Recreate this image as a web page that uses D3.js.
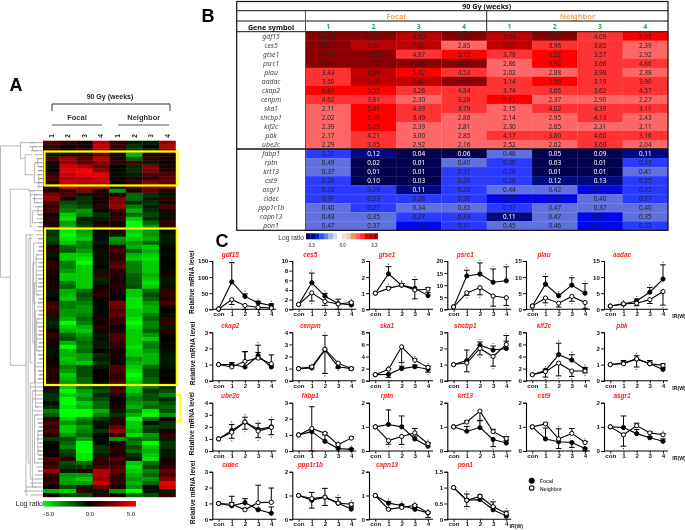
<!DOCTYPE html>
<html><head><meta charset="utf-8">
<script src="https://cdn.jsdelivr.net/npm/d3@7"></script>
<style>html,body{margin:0;padding:0;background:#fff}svg{display:block;font-family:"Liberation Sans",Arial,sans-serif;filter:blur(.3px)}</style>
</head><body><div id="chart"></div>
<script>
// ---------- Panel A data ----------
const heatColumns = ["F1","F2","F3","F4","N1","N2","N3","N4"];
const heatLabels = ["1","2","3","4","1","2","3","4"];
const heatRows = [
[1.5,1,0.5,3.5,1,-0.5,-0.5,3],[1,0.2,0.5,4,1,-1,0,3.5],[0.8,-0.2,0.8,3.5,0.8,-1.5,-1,2.5],
[-0.5,0.8,0.8,2,0.3,-3.5,0.5,0.5],[1.5,3,1.5,3.5,0.5,-2,1,0.5],[0.3,3,2,2.5,1,1.5,-0.5,0.3],
[-0.2,4,3.5,2,0,-0.8,2.5,0.5],[0.2,4.5,5,3,-0.2,-1,2.5,0.8],[1,4,4.5,4.5,-0.3,-0.5,1.5,1.5],
[1.5,3.5,3.5,4,0.3,0.8,1,2],[0.5,4,3.5,3.5,-0.1,1,2.5,1.8],[0.8,4,3,3.5,0.1,1.5,2,2.5],
[0.5,0.8,2.5,0.5,-3,0.5,2,0.5],[2.5,1.5,-0.5,0.8,0.5,-2,-1,-0.5],[3,0.5,-1,0.3,2.5,-2,-0.5,1],
[1.5,-1.5,-1,0.5,2.5,-1,-1,0.5],[1,-2,-1.5,0.8,3,-2.5,-0.5,1.5],[1.5,-2.5,-3,-0.3,1,-3.5,-1,0.5],
[0.2,-4,-2.5,-1,0.8,-2,-1.5,-0.3],[0.8,-4.5,-0.5,-0.5,1,-4,-1,0.5],[0.5,-3,-1,0.5,0.5,-5,-2,1],
[0.5,-3.5,-1.5,1,0.5,-5,-3,1],[-1,-4.5,-3,0.2,0.5,-4,-3,-0.2],[-1,-5,-3.5,-0.2,-0.5,-4.5,-3,-0.5],
[-1.5,-4.5,-4,-0.2,-3,-4,-3.5,-0.5],[-1,-4,-2.5,-0.5,-2.5,-3,-2,-0.5],[0.5,-2,-2.5,0.3,1,-3.5,-4,-0.2],
[0.5,-1.8,-3,-0.3,1.5,-2,-3.5,0.3],[-0.5,-4,-4,-0.3,0.8,-3.5,-4,-0.3],[0.3,-4,-4.5,-0.3,0.8,-4,-4.5,0],
[0.8,-2.5,-5,-0.3,1.5,-2.5,-4,0],[0.8,-2.5,-4,0,1.8,-2.5,-4,-0.2],[0.5,-3,-4,-0.5,0.8,-2.5,-4,-0.2],
[0.3,-4,-4,1,0.8,-2,-3.5,0.5],[0.2,-4,-4,-0.8,0.5,-1.8,-4,-0.5],[0.5,-2.5,-4,-0.5,0.5,-1.8,-4.5,-0.5],
[0.5,-2,-4,0.3,0.8,-1.5,-4,-0.3],[-0.3,-3.5,-2,0.5,0.5,-4,-2,1],[-0.3,-3.5,-1.5,1,0.3,-4,-1.5,1],
[0,-4,-2,0.3,0.3,-4.5,-2,0.8],[1,-2.5,-2.5,-0.2,2.5,-4.5,-3,1.5],[1.5,-2.5,-3,-0.2,2,-4.5,-3.5,0.3],
[1,-3,-3,-0.2,1.5,-4,-3.5,0],[0.8,-3,-2.5,-0.2,2,-4,-2.5,-0.3],[-0.5,-3.5,-2,0.5,1.2,-4.5,-2,0.8],
[-0.8,-5,-2.5,0.3,1,-5,-2.5,1],[-0.5,-4,-3.5,0.8,0.3,-4.5,-2.5,-0.5],[0.3,-3.5,-4,0.5,0.5,-4,-2,0.8],
[1,-2,-3,-0.5,1.5,-4,-3,0.3],[0.5,-1.5,-2.5,-0.3,1.5,-4,-4,0],[0.5,-3.5,-2,-0.5,1,-4,-2.5,-0.2],
[-0.3,-5,-2.5,-0.5,1,-4.5,-2.5,0.3],[-0.3,-3.5,-2,0,0.3,-4,-3,-0.3],[-0.3,-3.5,-3,-0.8,0.5,-4,-3.5,-0.5],
[0.2,-4,-3,-0.5,0.5,-3,-3.5,-0.5],[0.3,-3.5,-4,-1,0.3,-3.5,-3.5,-0.5],[0.5,-2.5,-1.5,-0.5,1.5,-4,-2,-0.3],
[0.8,-3,-1.5,0,1.5,-4.5,-1.5,0],[0.8,-4,-1.5,0.2,1,-5,-1.5,-0.2],[0.5,-3.5,-2,0,1,-4.5,-2,0],
[1,-3,-2,-0.2,1.5,-4,-2,0.2],[0.5,-4,-2,-1,1,-4,-2,-1],[-0.5,-5,-3,-1.5,1.5,-4,-1,-1.5],
[-1,-4,-3.5,-0.8,0.8,-3,-1.5,-2.5],[-1,-5,-2.5,-1.5,0,-2.5,-1.5,-0.8],[-0.3,-5,-4,-2,0.3,-3,-2.5,-1.5],
[-0.8,-4.5,-3.5,-2,0.5,-3.5,-2,-2],[-2.5,-5,-5,-3.5,-0.5,-2.5,-4.5,-1.5],[-1.8,-5,-5,-2.5,-1,-3.5,-5,-3],
[0.8,-4,-2.5,-1,1,-5,-2,0.3],[1.5,-3,-2,-0.5,0.5,-4,-0.3,-1],[1,-4,-3,-0.3,2,-4,-1.5,-1],
[1.5,-4,-2.5,-1,3,-3.5,-1,0.5],[0.8,-3,-2,0,1,-4.5,-3,1],[-1.2,-1.5,-3,-0.3,-3,-2,-2.5,-0.5],
[0,-2,-5,-0.2,0.5,-2.5,-5,-1],[0.1,-2.5,-5,-1,0.8,-1.5,-4,-1],[0.2,-1.5,-5,-1,0.8,-2,-3.5,-0.5],
[0.1,-1,-4.5,-0.5,0.5,-1,-4,-0.5],[1.5,1,-4.5,1,1.5,-0.5,-4.5,0.5],[1,-1.5,-2,0.8,1,-4,-2,0.5],
[1.5,-1,-1,1.5,1.5,-4.5,-1.5,1],[3,-0.5,0.5,3.5,2,-4,-2.5,2],[1,-3,-3,3.5,1,-3.5,-2,1.5],
[0.8,-3.5,-4,3,1,-3,-3,2.5],[1,-3,-3,4,1,-3.5,-2,4.5],[0,-1.5,-0.5,2,0.5,-3,0.5,4],
[-3.5,-4,1,-0.5,-3,-5,-0.5,-0.5],[0.3,-1.5,-1.5,0.8,0.3,-2,-1.5,1]
];
const heatLegendTicks = [-5,0,5];
// tree joins: [height, rowA, childHeightA, rowB, childHeightB]
const treeJoins = [
[1,0.8,.53,33.6,.77],[.77,11.6,.3,55.6,.4],[.4,23,.3,88,.35],
[.53,0,.2,4,.42],[.42,3,.25,8,.2],[.25,1,.15,2,.1],[.2,5,.12,10,.1],[.12,4,.05,6,.05],[.1,8,.05,11,.05],
[.3,12,.2,21,.25],[.25,17,.12,20,.1],[.2,13,.1,15,.1],[.12,16,.06,18,.05],
[.35,24,.26,80,.3],[.3,23,.22,55,.24],[.24,30,.18,50,.2],[.22,25,.15,40,.16],[.2,35,.14,60,.15],
[.18,42,.12,66,.1],[.3,60,.2,84,.25],[.25,62,.18,86,.15],[.2,68,.1,80,.12],[.16,28,.1,38,.08],
[.15,44,.08,52,.08],[.12,72,.06,78,.05]
];
const leafHeights = [.3,.32,.28,.2,.15,.18,.1,.12,.15,.1,.12,.14,.35,.3,.25,.2,.18,.15,.12,.14,.1,.12,
.2,.16,.12,.14,.1,.12,.15,.18,.1,.12,.14,.16,.12,.1,.12,.14,.16,.1,.12,.14,.1,.12,.14,.16,.12,.1,.12,.14,.1,.12,.14,.12,.1,.14,
.16,.12,.1,.12,.14,.3,.22,.2,.24,.16,.18,.26,.2,.14,.12,.1,.12,.14,.16,.1,.14,.12,.1,.12,.14,.16,.12,.2,.24,.3,.4,.45,.3];

// ---------- Panel B data ----------
const tableGenes = ["gdf15","ces5","gtse1","psrc1","plau","aadac","ckap2","cenpm","ska1","shcbp1","kif2c","pbk","ube2c","fabp1","rptn","krt13","cst9","asgr1","cidec","ppp1r1b","capn13","pon1"];
const tableWeeks = ["1","2","3","4","1","2","3","4"];
const foldChanges = [
[42.88,40.01,8.99,10.68,7.64,14.01,4.09,5.07],[36.60,8.56,7.92,2.85,8.11,3.96,3.85,2.39],
[14.73,16.23,4.87,5.15,3.78,6.22,3.57,2.92],[10.89,17.52,12.60,13.61,2.86,5.92,3.66,4.86],
[3.43,9.89,5.42,4.53,2.02,2.88,3.98,2.38],[3.60,9.70,7.42,17.19,3.14,5.55,3.19,3.90],
[5.67,5.55,3.26,4.84,3.74,3.66,3.62,4.57],[4.62,3.61,2.30,3.28,5.13,2.37,2.90,2.27],
[2.11,5.81,4.39,3.79,2.15,4.02,4.39,3.11],[2.02,5.30,3.49,2.86,2.14,2.95,4.13,2.43],
[2.39,5.25,2.39,2.81,2.30,2.65,2.31,2.11],[2.17,4.21,3.00,2.85,4.17,3.80,4.60,3.16],
[2.29,3.05,2.92,2.16,2.52,2.62,3.60,2.04],[0.20,0.12,0.04,0.06,0.48,0.05,0.09,0.11],
[0.49,0.02,0.01,0.40,0.30,0.03,0.01,0.33],[0.37,0.01,0.01,0.31,0.26,0.01,0.01,0.41],
[0.20,0.10,0.03,0.20,0.26,0.12,0.13,0.25],[0.33,0.29,0.11,0.26,0.44,0.42,0.19,0.32],
[0.31,0.23,0.28,0.30,0.17,0.19,0.40,0.27],[0.40,0.27,0.34,0.35,0.32,0.47,0.37,0.40],
[0.43,0.35,0.27,0.33,0.11,0.47,0.16,0.35],[0.47,0.37,0.18,0.31,0.45,0.46,0.18,0.32]
];
const foldThresholds = [0.105,0.135,0.195,0.335,1,3.02,5,7,10];
const foldColors = ["#00004f","#000a80","#0008e8","#2a3aff","#6070dc","#ff6666","#ff3333","#ff0000","#c00000","#8b0000"];
const tableLegendColors = ["#00004f","#000a80","#0a20d8","#3050ff","#6080e0","#a8b0e0","#d8d8e8","#ffffff","#f4dcdc","#f0c8c8","#e89858","#ff6666","#ff3333","#e00000","#c00000","#8b0000"];
const tableLegendTicks = ["-3.3","0.0","3.3"];

// ---------- Panel C data ----------
const timeCategories = ["con","1","2","3","4"];
const panelGenes = ["gdf15","ces5","gtse1","psrc1","plau","aadac","ckap2","cenpm","ska1","shcbp1","kif2c","pbk","ube2c","fabp1","rptn","krt13","cst9","asgr1","cidec","ppp1r1b","capn13","pon1"];
const panelYMax = [150,10,3,20,15,15,3,4,8,3,8,3,4,3,2,2,2,2,3,2,2,1.5];
const panelYStep = [50,2,1,5,5,5,1,1,2,1,2,1,1,1,1,1,1,1,1,1,1,0.5];
const focalMeans = [
[1,85,40,20,12],[1,5.5,2.7,1.2,0.9],[1,2.2,1.5,1.3,0.85],[1,13.8,14.6,11.2,11.8],[1,7.8,4.2,7.5,5],[1,1.6,2.6,5.3,9.4],
[1,1,0.85,1.55,0.85],[1,1.05,2.55,1.15,1],[1,1.05,2,2.3,1.9],[1,1.25,2.2,1.9,2],[1,1.7,4.3,3.4,1.9],[1,1.1,1.35,1.05,0.7],
[1,1.7,2.4,1.8,2],[1,1.2,0.6,0.15,0.1],[1,1.1,1,0.5,0.2],[1,0.82,0.97,0.48,0.33],[1,0.5,0.38,0.35,0.1],[1,0.97,0.72,0.55,0.4],
[1,0.85,1.05,0.6,0.38],[1,0.8,0.93,0.67,0.43],[1,0.68,0.58,0.42,0.27],[1,0.6,0.62,0.3,0.1]];
const focalErrors = [
[0,60,8,5,5],[0,2,0.6,0.9,0.2],[0,0.45,0.1,0.55,0.2],[0,2.4,4.6,5.5,5.8],[0,2.4,0.5,2.3,3],[0,0.3,0.6,1.5,4.4],
[0,0.12,0.95,0.65,0.12],[0,0.2,1.2,0.3,0.1],[0,-0.5,0.4,0.3,-0.5],[0,0.65,0.2,0.25,0.45],[0,0.2,1.9,0.9,0.3],[0,0.15,0.2,0.2,0.1],
[0,0.5,0.4,0.5,0.6],[0,1.55,0.4,0.1,0.05],[0,0.6,0.45,0.12,0.1],[0,0.2,0.3,-0.3,0.1],[0,0.45,-0.28,-0.2,-0.2],[0,0.48,0.17,0.05,0.1],
[0,0.6,0.25,0.05,0.4],[0,0.33,0.37,0.25,0.1],[0,0.07,0.05,0.08,-0.2],[0,0.2,0.1,0.1,0.05]];
const neighborMeans = [
[1,30,12,6,4],[1,3.4,1.6,1.1,1.4],[1,1.3,1.5,1.2,1.25],[1,6.8,9,5.5,4.8],[1,3.5,1.9,4,2.1],[1,1.7,1.9,3,5.5],
[1,0.85,1.2,1.4,1.05],[1,1.15,2.6,1.45,1],[1,1.9,5.6,3.4,2.2],[1,1.1,2,1.5,2.25],[1,1.5,2.9,1.6,1.6],[1,1.05,1.35,1.05,0.95],
[1,1.55,2.4,1.65,1.95],[1,1.4,1.1,0.4,0.8],[1,0.43,0.6,0.75,0.3],[1,1.2,1.65,0.8,0.52],[1,1.12,0.5,0.73,0.35],[1,0.67,1.05,0.75,0.67],
[1,0.95,0.6,1.05,1.07],[1,0.87,0.93,0.68,0.63],[1,0.42,0.5,0.58,0.28],[1,0.6,0.72,0.4,0.18]];
const neighborErrors = [
[0,-15,-12,-6,-4],[0,-1.7,-0.8,-1.1,0.2],[0,0.1,0.1,-0.55,0.1],[0,-1,-3,-4.2,-3.2],[0,-1.5,-1.2,-1.5,-1.8],[0,-0.3,-0.8,-1.2,-4.2],
[0,0.1,0.6,0.35,0.55],[0,-0.1,-2,-0.4,-0.1],[0,0.1,-2.6,0.2,0.2],[0,-0.55,-0.4,-0.6,0.55],[0,-0.9,-2.1,-0.9,-0.3],[0,0.1,-0.5,0.1,0.1],
[0,-0.5,-0.6,-0.55,-0.6],[0,-1.6,0.05,0.05,0.08],[0,-0.15,-0.33,0.18,0.05],[0,0.05,-0.4,0.1,0.08],[0,0.05,0.42,0.2,0.05],[0,-0.47,0.1,0.05,0.05],
[0,0.1,0.1,1.1,0.9],[0,-0.4,-0.35,0.05,0.05],[0,0.03,0.05,0.04,0.03],[0,-0.2,0.05,0.15,0.08]];

// ---------- Drawing ----------
const W=685,H=530;
const svg=d3.select("#chart").append("svg").attr("width",W).attr("height",H).attr("viewBox",`0 0 ${W} ${H}`);
const txt=(g,x,y,s,o={})=>{const t=g.append("text").attr("x",x).attr("y",y).attr("text-anchor",o.a||"middle").attr("dominant-baseline","central")
  .attr("font-size",o.s||7).attr("font-weight",o.w||"normal").attr("font-style",o.i?"italic":"normal").attr("fill",o.c||"#111").text(s);
  if(o.f)t.attr("font-family",o.f); if(o.r!==undefined)t.attr("transform",`rotate(${o.r} ${x} ${y})`); return t;};
const ln=(g,x1,y1,x2,y2,c="#000",w=1)=>g.append("line").attr("x1",x1).attr("y1",y1).attr("x2",x2).attr("y2",y2).attr("stroke",c).attr("stroke-width",w);

txt(svg,16,85,"A",{s:18,w:"bold",c:"#000"});
txt(svg,208,16,"B",{s:18,w:"bold",c:"#000"});
txt(svg,222,241,"C",{s:18,w:"bold",c:"#000"});

// Panel A
const A=svg.append("g");
const hx=d3.scaleBand().domain(heatColumns).range([43,175.5]);
const hy=d3.scaleBand().domain(d3.range(heatRows.length)).range([140.7,497]);
const heatColor=d3.scaleLinear().domain([-5,0,5]).range(["#00ff00","#000000","#ff0000"]).clamp(true);
heatRows.forEach((row,r)=>{A.selectAll(null).data(row).enter().append("rect")
  .attr("x",(d,i)=>hx(heatColumns[i])).attr("y",hy(r)).attr("width",hx.bandwidth()+.3).attr("height",hy.bandwidth()+.2).attr("fill",d=>heatColor(d));});
// dendrogram
const tx=d3.scaleLinear().domain([1,0]).range([0.5,43]);
const ty=r=>hy(Math.floor(r))+(r-Math.floor(r)+.5)*hy.step();
leafHeights.forEach((h,r)=>ln(A,tx(h),ty(r),43,ty(r),h<.13?"#222":"#777",.6));
treeJoins.forEach(j=>A.append("path").attr("fill","none").attr("stroke","#999").attr("stroke-width",.7)
  .attr("d",`M${tx(j[2])},${ty(j[1])}H${tx(j[0])}V${ty(j[3])}H${tx(j[4])}`));
// yellow boxes
A.append("rect").attr("x",44.5).attr("y",151.5).attr("width",133).attr("height",34).attr("fill","none").attr("stroke","#ffff00").attr("stroke-width",2.2);
A.append("rect").attr("x",45).attr("y",228.5).attr("width",132).attr("height",156.5).attr("fill","none").attr("stroke","#ffff00").attr("stroke-width",2.2);
A.append("path").attr("d","M176,395H180.5V421.5H176").attr("fill","none").attr("stroke","#ffff00").attr("stroke-width",2);
// header
txt(A,110,96,"90 Gy (weeks)",{s:7,w:"bold",c:"#222"});
A.append("path").attr("d","M52,111V104H170V111").attr("fill","none").attr("stroke","#333").attr("stroke-width",1);
txt(A,77,117,"Focal",{s:7.5,w:"bold",c:"#333"});
txt(A,143.7,117,"Neighbor",{s:7.5,w:"bold",c:"#333"});
ln(A,52,125,102,125,"#555",1);ln(A,118,125,169,125,"#555",1);
heatLabels.forEach((l,i)=>txt(A,hx(heatColumns[i])+hx.bandwidth()/2,136,l,{s:6.5,w:"bold",r:-90,c:"#222"}));
// colour bar
const grad=svg.append("defs").append("linearGradient").attr("id","hg");
[[0,"#00ff00"],[.5,"#000"],[1,"#ff0000"]].forEach(s=>grad.append("stop").attr("offset",s[0]).attr("stop-color",s[1]));
A.append("rect").attr("x",43).attr("y",501).attr("width",93).attr("height",5.6).attr("fill","url(#hg)");
txt(A,43,503,"Log ratio",{s:7,a:"end",c:"#222"});
const hl=d3.scaleLinear().domain([-5,5]).range([49,131]);
heatLegendTicks.forEach(t=>txt(A,hl(t),513.5,t.toFixed(1),{s:6,c:"#555",w:"bold"}));

// Panel B
const B=svg.append("g");
const bL=236.7,bM=305.5,bR=668,bT=1.5,bD=31.7,bB=230.3;
const tx2=d3.scaleBand().domain(d3.range(8)).range([bM,bR]);
const ty2=d3.scaleBand().domain(tableGenes).range([bD,bB]);
const fc=d3.scaleThreshold().domain(foldThresholds).range(foldColors);
B.append("rect").attr("x",bL).attr("y",bT).attr("width",bR-bL).attr("height",bB-bT).attr("fill","#fff");
foldChanges.forEach((row,r)=>{const g=tableGenes[r],y=ty2(g);
  txt(B,(bL+bM)/2,y+ty2.bandwidth()/2,g,{s:6.8,i:1,c:"#444",f:"'Noto Sans'"});
  row.forEach((v,c)=>{B.append("rect").attr("x",tx2(c)).attr("y",y).attr("width",tx2.bandwidth()+.2).attr("height",ty2.bandwidth()+.2).attr("fill",fc(v));
    txt(B,tx2(c)+tx2.bandwidth()/2,y+ty2.bandwidth()/2,v.toFixed(2),{s:6.4,f:"'Noto Sans'",c:v<0.105||(v>=0.105&&v<0.135)?"#fff":"#222"});});});
txt(B,486.7,6.2,"90 Gy (weeks)",{s:7.2,w:"bold",f:"'Noto Sans'",c:"#111"});
txt(B,396,16.3,"Focal",{s:7.6,c:"#f4a460",f:"'Noto Sans'",w:"bold"});
txt(B,577.7,16.3,"Neighbor",{s:7.6,c:"#f4a460",f:"'Noto Sans'",w:"bold"});
txt(B,271,27,"Gene symbol",{s:7.2,w:"bold",f:"'Noto Sans'",c:"#111"});
tableWeeks.forEach((w,i)=>txt(B,tx2(i)+tx2.bandwidth()/2,26.7,w,{s:7,w:"bold",c:"#20b050",f:"'Noto Sans'"}));
ln(B,bL,10.7,bR,10.7,"#111",1);ln(B,bL,21,bR,21,"#111",1);ln(B,bL,bD,bR,bD,"#111",1);
ln(B,486.7,10.7,486.7,bD,"#222",1);ln(B,bM,10.7,bM,bB,"#555",1);
const breakY=ty2(tableGenes[13]);ln(B,bL,breakY,bR,breakY,"#111",1.6);
B.append("rect").attr("x",bL).attr("y",bT).attr("width",bR-bL).attr("height",bB-bT).attr("fill","none").attr("stroke","#111").attr("stroke-width",1.2);
const bl=d3.scaleBand().domain(d3.range(tableLegendColors.length)).range([306,377.7]);
tableLegendColors.forEach((c,i)=>B.append("rect").attr("x",bl(i)).attr("y",233.3).attr("width",bl.bandwidth()+.2).attr("height",6).attr("fill",c));
txt(B,304,237,"Log ratio",{s:6.6,a:"end",c:"#333"});
const blt=d3.scalePoint().domain(tableLegendTicks).range([311,374.3]);
tableLegendTicks.forEach(t=>txt(B,blt(t),245.3,t,{s:4.5,w:"bold",c:"#555"}));

// Panel C
const colX=[212.3,292.3,369,447.3,526,604];
const rowY=[[261,309.3],[332.3,380.7],[402.7,451],[471.7,519.3]];
const dot=d3.symbol().type(d3.symbolCircle);
panelGenes.forEach((gene,i)=>{
  const c=i%6,rw=Math.floor(i/6),ax=colX[c],[top,bot]=rowY[rw];
  const g=svg.append("g");
  const x=d3.scalePoint().domain(timeCategories).range([ax+6.3,ax+59]);
  const y=d3.scaleLinear().domain([0,panelYMax[i]]).range([bot,top]);
  const ya=d3.axisLeft(y).tickValues(d3.range(0,panelYMax[i]+1e-9,panelYStep[i])).tickSize(3).tickFormat(d=>String(d));
  const yg=g.append("g").attr("transform",`translate(${ax},0)`).call(ya);
  const xa=d3.axisBottom(x).tickSize(2.5);
  const xg=g.append("g").attr("transform",`translate(0,${bot})`).call(xa);
  xg.select(".domain").remove();
  ln(g,ax,bot,ax+64,bot,"#000",1.1);
  [yg,xg].forEach(s=>{s.selectAll("text").attr("font-size",6.2).attr("font-weight","bold").attr("fill","#111").attr("font-family","'Liberation Sans'");
    s.selectAll(".tick line").attr("stroke","#000").attr("stroke-width",.9);});
  yg.select(".domain").attr("stroke","#000").attr("stroke-width",1.1);
  xg.selectAll("text").attr("dy","0.55em").attr("y",3.5);
  yg.selectAll("text").attr("x",-4);
  txt(g,ax+18,top-7,gene,{s:6.4,w:"bold",i:1,c:"#ff2020"});
  if(c===0) txt(g,192,(top+bot)/2-3,"Relative mRNA level",{s:6.6,w:"bold",r:-90,c:"#111"});
  if(c===5||gene==="pon1") txt(g,ax+(c===5?75:69),bot+7,"IR(W)",{s:5.2,w:"bold",c:"#111"});
  const line=d3.line().x((d,k)=>x(timeCategories[k])).y(d=>y(d));
  [[focalMeans[i],focalErrors[i],"#000"],[neighborMeans[i],neighborErrors[i],"#fff"]].forEach(([m,e,fill])=>{
    m.forEach((v,k)=>{if(!e[k])return;const px=x(timeCategories[k]),e1=y(Math.max(0,v+e[k]));
      ln(g,px,y(v),px,e1,"#000",1);ln(g,px-2.8,e1,px+2.8,e1,"#000",1);
      if(Math.abs(v-1)>=.3)g.append("path").attr("d",dot.size(1.1)()).attr("fill","#333").attr("transform",`translate(${px},${e1+(e[k]>0?-2.5:2.5)})`);});
    g.append("path").attr("d",line(m)).attr("fill","none").attr("stroke","#000").attr("stroke-width",1.1);
    m.forEach((v,k)=>g.append("circle").attr("cx",x(timeCategories[k])).attr("cy",y(v)).attr("r",2.1).attr("fill",fill).attr("stroke","#000").attr("stroke-width",1));
  });
});
svg.append("circle").attr("cx",531.7).attr("cy",480.7).attr("r",2.6).attr("fill","#000").attr("stroke","#000");
svg.append("circle").attr("cx",531.7).attr("cy",488).attr("r",2.3).attr("fill","#fff").attr("stroke","#000").attr("stroke-width",1.1);
txt(svg,540,481,"Focal",{s:5,a:"start",w:"bold",c:"#444"});
txt(svg,540,488.5,"Neighbor",{s:5,a:"start",w:"bold",c:"#444"});
</script></body></html>
